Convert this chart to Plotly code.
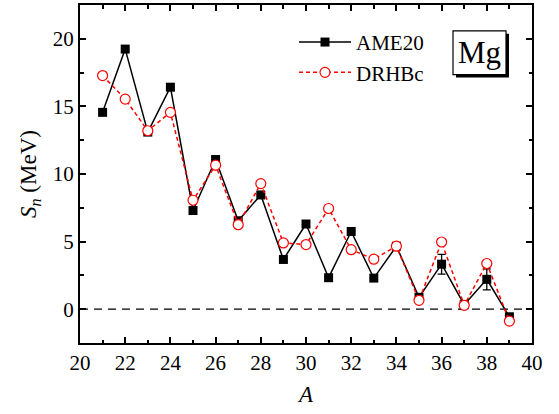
import plotly.graph_objects as go

# Mass numbers of the Mg isotopes
mass_number = [21, 22, 23, 24, 25, 26, 27, 28, 29, 30, 31, 32, 33, 34, 35, 36, 37, 38, 39]

# One-neutron separation energies (MeV)
sn_ame20 = [14.56, 19.24, 13.10, 16.42, 7.30, 11.07, 6.54, 8.45, 3.68, 6.30,
            2.33, 5.75, 2.30, 4.66, 0.88, 3.33, 0.33, 2.21, -0.56]
sn_ame20_err = [0.0, 0.0, 0.0, 0.0, 0.0, 0.0, 0.0, 0.0, 0.0, 0.0,
                0.0, 0.0, 0.0, 0.0, 0.05, 0.73, 0.05, 0.78, 0.05]
sn_drhbc = [17.28, 15.54, 13.20, 14.56, 8.06, 10.65, 6.25, 9.29, 4.90, 4.78,
            7.45, 4.40, 3.70, 4.66, 0.66, 4.97, 0.29, 3.38, -0.88]

x_ticks = [20, 22, 24, 26, 28, 30, 32, 34, 36, 38, 40]
y_ticks = [0, 5, 10, 15, 20]

FONT = "Liberation Serif"

fig = go.Figure()

# Zero reference line
fig.add_trace(go.Scatter(
    x=[20, 40], y=[0, 0], mode="lines",
    line=dict(color="black", width=1.3, dash="8px,6px"),
    showlegend=False, hoverinfo="skip",
))

fig.add_trace(go.Scatter(
    x=mass_number, y=sn_ame20, name="AME20",
    mode="lines+markers",
    line=dict(color="black", width=1.5),
    marker=dict(symbol="square", size=9, color="black"),
    error_y=dict(type="data", array=sn_ame20_err, visible=True,
                 color="black", thickness=1.3, width=4),
))

fig.add_trace(go.Scatter(
    x=mass_number, y=sn_drhbc, name="DRHBc",
    mode="lines+markers",
    line=dict(color="#ff0000", width=1.5, dash="4px,3px"),
    marker=dict(symbol="circle", size=10, color="white",
                line=dict(color="#ff0000", width=1.2)),
))

axis_common = dict(
    showline=True, linecolor="black", linewidth=2, mirror="ticks",
    ticks="inside", ticklen=6, tickwidth=1.5, tickcolor="black",
    showgrid=False, zeroline=False,
    tickfont=dict(family=FONT, size=21, color="black"),
)

fig.update_xaxes(
    range=[20, 40], tickvals=x_ticks,
    minor=dict(dtick=1, tick0=20, ticks="inside", ticklen=3.5,
               tickwidth=1.5, tickcolor="black", showgrid=False),
    title=dict(text="<i>A</i>", font=dict(family=FONT, size=23, color="black"),
               standoff=12),
    **axis_common,
)
fig.update_yaxes(
    range=[-2.5, 22.5], tickvals=y_ticks,
    minor=dict(dtick=2.5, tick0=0, ticks="inside", ticklen=3.5,
               tickwidth=1.5, tickcolor="black", showgrid=False),
    title=dict(text="<i>S<sub>n</sub></i> (MeV)",
               font=dict(family=FONT, size=23, color="black"), standoff=10),
    **axis_common,
)

# Element label with drop shadow
fig.add_shape(type="rect", xref="paper", yref="paper",
              x0=(456 - 80) / 452, x1=(509 - 80) / 452,
              y0=(343 - 76) / 340, y1=(343 - 32) / 340,
              line=dict(width=0), fillcolor="black", layer="above")
fig.add_shape(type="rect", xref="paper", yref="paper",
              x0=(453 - 80) / 452, x1=(506 - 80) / 452,
              y0=(343 - 73) / 340, y1=(343 - 29) / 340,
              line=dict(width=1.2, color="black"), fillcolor="white", layer="above")
fig.add_annotation(text="Mg", xref="paper", yref="paper",
                   x=(479.5 - 80) / 452, y=(343 - 51) / 340,
                   showarrow=False, xanchor="center", yanchor="middle",
                   font=dict(family=FONT, size=31, color="black"))

fig.update_layout(
    width=559, height=414,
    margin=dict(l=80, r=27, t=3, b=71),
    paper_bgcolor="white", plot_bgcolor="white",
    showlegend=True,
    legend=dict(x=(294 - 80) / 452, y=(343 - 20) / 340,
                xanchor="left", yanchor="top",
                bgcolor="rgba(0,0,0,0)", borderwidth=0,
                font=dict(family=FONT, size=21, color="black"),
                itemwidth=52, tracegroupgap=0),
    font=dict(family=FONT, color="black"),
)

fig.write_html("out.html")
